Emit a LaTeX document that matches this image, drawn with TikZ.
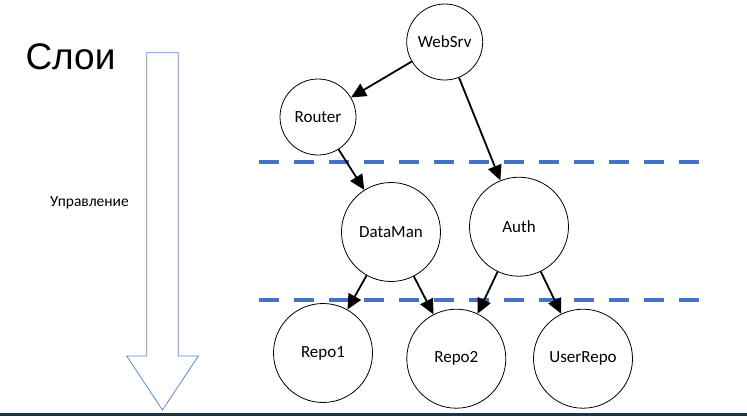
\documentclass[tikz,border=0pt]{standalone}
\usepackage{fontspec}
\setmainfont{Carlito}
\newfontfamily\titlefont{Liberation Sans}
\usepackage{xcolor}
\usepackage{tikz}
\usetikzlibrary{arrows.meta}

\definecolor{layerblue}{HTML}{4472C4}
\definecolor{shaftblue}{HTML}{5B88D6}
\definecolor{slidebar}{HTML}{1E3644}

\begin{document}
\begin{tikzpicture}[x=1pt, y=-1pt, >={Triangle[length=15pt, width=14pt]},
    small/.style={circle, draw, line width=0.8pt, minimum size=76pt, inner sep=0pt, font=\fontsize{17}{20}\selectfont},
    big/.style={circle, draw, line width=0.8pt, minimum size=99pt, inner sep=0pt, font=\fontsize{17}{20}\selectfont},
    arrow/.style={->, line width=1.8pt},
    layer/.style={layerblue, line width=4pt, dash pattern=on 20pt off 15pt}]
    \useasboundingbox (0,0) rectangle (747,416);
    \fill[slidebar] (0,413) rectangle (747,416);

    \node[font=\titlefont\fontsize{37}{40}\selectfont, anchor=west] (title) at (22,57) {Слои};
    \node[font=\fontsize{15.5}{18}\selectfont] (ctrl) at (89.5,203) {Управление};
    \draw[shaftblue, line width=0.8pt, line join=miter]
        (146.7,52.7) -- (178.3,52.7) -- (178.3,356) -- (198.3,356)
        -- (162.5,410) -- (126.7,356) -- (146.7,356) -- cycle;

    \node[small] (websrv) at (444.7,42) {WebSrv};
    \node[small] (router) at (318,117) {Router};
    \node[big] (dataman) at (391,232) {DataMan};
    \node[big] (auth) at (519,226.7) {Auth};
    \node[big] (repo1) at (323,353) {Repo1};
    \node[big] (repo2) at (456.3,358.7) {Repo2};
    \node[big] (userrepo) at (583,358.7) {UserRepo};

    \coordinate (l1a) at (259.3,162.3);
    \coordinate (l1b) at (700,162.3);
    \coordinate (l2a) at (259.3,300);
    \coordinate (l2b) at (700,300);
    \draw[layer] (l1a) -- (l1b);
    \draw[layer] (l2a) -- (l2b);

    \draw[arrow] (websrv) -- (router);
    \draw[arrow] (websrv) -- (auth);
    \draw[arrow] (router) -- (dataman);
    \draw[arrow] (dataman) -- (repo1);
    \draw[arrow] (dataman) -- (repo2);
    \draw[arrow] (auth) -- (repo2);
    \draw[arrow] (auth) -- (userrepo);
\end{tikzpicture}
\end{document}
